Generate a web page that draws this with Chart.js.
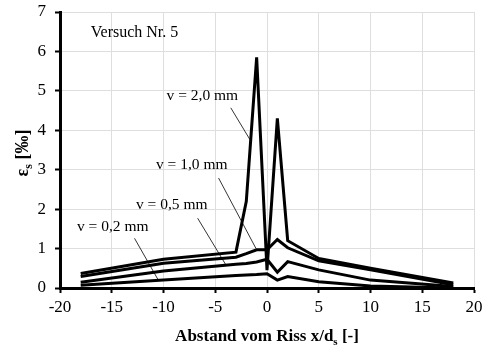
<!DOCTYPE html>
<html>
<head>
<meta charset="utf-8">
<script src="https://cdn.jsdelivr.net/npm/chart.js@4"></script>
<style>
  html, body { margin: 0; padding: 0; background: #fff; }
  #wrap { width: 483px; height: 347px; }
</style>
</head>
<body>
<div id="wrap"><canvas id="strainChart" width="483" height="347"></canvas></div>
<script>
// distance from crack x/ds
const distance = [-18, -10, -3, -2, -1, 0, 1, 2, 5, 10, 18];

// steel strain [permille] per crack opening
const strainV20 = [0.37, 0.73, 0.91, 2.2, 5.85, 0.45, 4.3, 1.2, 0.75, 0.5, 0.13];
const strainV10 = [0.29, 0.63, 0.78, 0.87, 0.97, 0.97, 1.23, 1.02, 0.69, 0.46, 0.08];
const strainV05 = [0.145, 0.43, 0.6, 0.62, 0.66, 0.73, 0.4, 0.67, 0.46, 0.2, 0.04];
const strainV02 = [0.07, 0.2, 0.32, 0.33, 0.34, 0.36, 0.2, 0.29, 0.16, 0.05, 0.0];

const seriesNames = ["v = 2,0 mm", "v = 1,0 mm", "v = 0,5 mm", "v = 0,2 mm"];

// label anchors and leader lines, in data units
const labelX = [-6.25, -7.27, -9.2, -14.9];
const labelY = [4.86, 3.13, 2.11, 1.54];
const leadFromX = [-3.5, -4.68, -6.7, -12.8];
const leadFromY = [4.57, 2.79, 1.77, 1.26];
const leadToX = [-1.64, -1.06, -3.96, -10.5];
const leadToY = [3.76, 1.0, 0.58, 0.2];

const SERIF = '"Liberation Serif", "Times New Roman", serif';

function toPoints(ys) {
  return distance.map((x, i) => ({ x, y: ys[i] }));
}

function drawParts(ctx, parts, x, y, size) {
  const main = `bold ${size}px ${SERIF}`;
  const sub = `bold ${Math.round(size * 0.65)}px ${SERIF}`;
  let total = 0;
  parts.forEach(p => {
    ctx.font = p.sub ? sub : main;
    total += ctx.measureText(p.t).width;
  });
  let cx = x - total / 2;
  ctx.textAlign = "left";
  ctx.textBaseline = "alphabetic";
  parts.forEach(p => {
    ctx.font = p.sub ? sub : main;
    ctx.fillText(p.t, cx, p.sub ? y + size * 0.22 : y);
    cx += ctx.measureText(p.t).width;
  });
}

const annotations = {
  id: "annotations",
  afterDatasetsDraw(chart) {
    const { ctx, scales } = chart;
    const sx = scales.x, sy = scales.y;
    ctx.save();
    ctx.fillStyle = "#000";
    ctx.strokeStyle = "#000";
    ctx.lineWidth = 0.8;
    ctx.font = `15.5px ${SERIF}`;
    ctx.textAlign = "center";
    ctx.textBaseline = "middle";
    seriesNames.forEach((name, i) => {
      ctx.fillText(name, sx.getPixelForValue(labelX[i]), sy.getPixelForValue(labelY[i]));
      ctx.beginPath();
      ctx.moveTo(sx.getPixelForValue(leadFromX[i]), sy.getPixelForValue(leadFromY[i]));
      ctx.lineTo(sx.getPixelForValue(leadToX[i]), sy.getPixelForValue(leadToY[i]));
      ctx.stroke();
    });
    ctx.font = `16px ${SERIF}`;
    ctx.fillText("Versuch Nr. 5", sx.getPixelForValue(-12.8), sy.getPixelForValue(6.48));
    ctx.restore();
  },
  afterDraw(chart) {
    const { ctx, chartArea } = chart;
    ctx.save();
    ctx.fillStyle = "#000";
    drawParts(ctx, [
      { t: "Abstand vom Riss x/d" }, { t: "s", sub: true }, { t: " [-]" }
    ], (chartArea.left + chartArea.right) / 2, 341, 17);
    ctx.translate(22, (chartArea.top + chartArea.bottom) / 2 + 3);
    ctx.rotate(-Math.PI / 2);
    drawParts(ctx, [
      { t: "ε" }, { t: "s", sub: true }, { t: " [‰]" }
    ], 0, 6, 18);
    ctx.restore();
  }
};

const lineStyle = {
  borderColor: "#000",
  borderWidth: 3,
  pointRadius: 0,
  tension: 0,
  fill: false
};

new Chart(document.getElementById("strainChart"), {
  type: "line",
  data: {
    datasets: [
      { label: seriesNames[0], data: toPoints(strainV20), ...lineStyle },
      { label: seriesNames[1], data: toPoints(strainV10), ...lineStyle },
      { label: seriesNames[2], data: toPoints(strainV05), ...lineStyle },
      { label: seriesNames[3], data: toPoints(strainV02), ...lineStyle }
    ]
  },
  options: {
    responsive: false,
    animation: false,
    layout: { padding: { top: 12, right: 9, left: 0, bottom: 0 } },
    plugins: {
      legend: { display: false },
      tooltip: { enabled: false }
    },
    scales: {
      x: {
        type: "linear",
        min: -20,
        max: 20,
        ticks: {
          stepSize: 5,
          color: "#000",
          padding: 4,
          font: { family: SERIF, size: 17 }
        },
        grid: { color: "#dedede", tickColor: "#000", tickLength: 5, tickWidth: 2 },
        border: { color: "#000", width: 3 },
        afterFit(scale) {
          scale.height = 59;
          scale.paddingLeft = 0;
          scale.paddingRight = 0;
        }
      },
      y: {
        min: 0,
        max: 7,
        ticks: {
          stepSize: 1,
          color: "#000",
          padding: 9,
          font: { family: SERIF, size: 17 }
        },
        grid: { color: "#dedede", tickColor: "#000", tickLength: 5, tickWidth: 2 },
        border: { color: "#000", width: 3 },
        afterFit(scale) {
          scale.width = 60;
          scale.paddingTop = 0;
          scale.paddingBottom = 0;
        }
      }
    }
  },
  plugins: [annotations]
});
</script>
</body>
</html>
